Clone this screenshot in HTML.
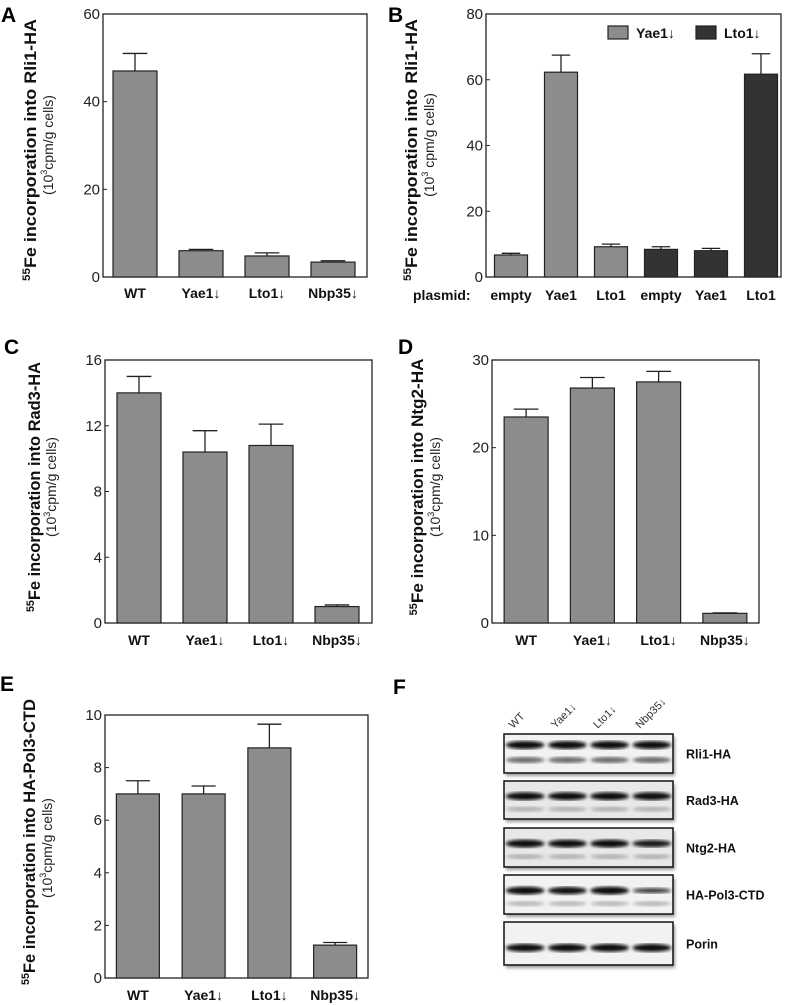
<!DOCTYPE html>
<html><head><meta charset="utf-8"><style>
body{margin:0;background:#fff}
svg{display:block;font-family:"Liberation Sans",Arial,sans-serif}
</style></head><body>
<svg id="fig" width="787" height="1005" viewBox="0 0 787 1005">
<g font-weight="bold" font-size="21" fill="#000">
<text x="1" y="22">A</text>
<text x="388" y="22">B</text>
<text x="4" y="354">C</text>
<text x="398" y="354">D</text>
<text x="0" y="691">E</text>
<text x="393" y="694">F</text>
</g>
<g id="blot"></g>
</svg>
<script>
// Panel A
const aCats=["WT","Yae1↓","Lto1↓","Nbp35↓"];
const aVals=[47,6,4.8,3.4];
const aErr=[51,6.3,5.5,3.7];
const aTicks=[0,20,40,60];
// Panel B
const bCats=["empty","Yae1","Lto1","empty","Yae1","Lto1"];
const bVals=[6.7,62.3,9.2,8.4,8.0,61.7];
const bErr=[7.2,67.5,10.0,9.2,8.7,67.9];
const bGroup=["Yae1↓","Yae1↓","Yae1↓","Lto1↓","Lto1↓","Lto1↓"];
const bTicks=[0,20,40,60,80];
// Panel C
const cCats=["WT","Yae1↓","Lto1↓","Nbp35↓"];
const cVals=[14,10.4,10.8,1.0];
const cErr=[15,11.7,12.1,1.1];
const cTicks=[0,4,8,12,16];
// Panel D
const dCats=["WT","Yae1↓","Lto1↓","Nbp35↓"];
const dVals=[23.5,26.8,27.5,1.1];
const dErr=[24.4,28.0,28.7,1.15];
const dTicks=[0,10,20,30];
// Panel E
const eCats=["WT","Yae1↓","Lto1↓","Nbp35↓"];
const eVals=[7.0,7.0,8.75,1.25];
const eErr=[7.5,7.3,9.65,1.35];
const eTicks=[0,2,4,6,8,10];
// Panel F
const blotRows=["Rli1-HA","Rad3-HA","Ntg2-HA","HA-Pol3-CTD","Porin"];
const blotLanes=["WT","Yae1↓","Lto1↓","Nbp35↓"];
const blotIntensity=[[1,1,1,1],[1,1,1,1],[1,1,1,0.9],[1,0.95,1,0.6],[1,1,1,1]];

const NS="http://www.w3.org/2000/svg";
const svg=document.getElementById('fig');
function mk(tag,attrs,parent,text){const e=document.createElementNS(NS,tag);for(const k in attrs)e.setAttribute(k,attrs[k]);if(text!==undefined)e.textContent=text;parent.appendChild(e);return e;}

function panel(cfg){
  const g=mk('g',{},svg);
  
  
  const {x0,x1,y0,y1,ticks,cats,vals,errs}=cfg;
  const max=ticks[ticks.length-1];
  const ys=v=>y1-(v/max)*(y1-y0);
  const step=(cfg.xEnd-cfg.xStart)/cats.length;
  const xs=i=>cfg.xStart+step*i+step/2;
  const frame=mk('rect',{x:x0,y:y0,width:x1-x0,height:y1-y0,fill:'none',stroke:'#222','stroke-width':1.3},g);
  
  
  ticks.forEach(t=>{
    const l=mk('line',{x1:x0,x2:x0+4,y1:ys(t),y2:ys(t),stroke:'#222','stroke-width':1},g);
    
    
    const tx=mk('text',{x:x0-3,y:ys(t)+5,'text-anchor':'end','font-size':15,fill:'#222'},g,String(t));
    
    
  });
  cats.forEach((c,i)=>{
    const cx=xs(i),w=cfg.bw;
    const fill=cfg.colors?cfg.colors[i]:'#8c8c8c';
    const b=mk('rect',{x:cx-w/2,y:ys(vals[i]),width:w,height:y1-ys(vals[i]),fill:fill,stroke:'#222','stroke-width':1.2},g);
    
    
    const e=mk('path',{d:`M${cx},${ys(vals[i])}V${ys(errs[i])}M${cx-w*0.28},${ys(errs[i])}H${cx+w*0.28}`,stroke:'#222','stroke-width':1.3,fill:'none'},g);
    
    
    const t=mk('text',{x:cx,y:cfg.labY,'text-anchor':'middle','font-size':14,'font-weight':'bold',fill:'#111'},g,c);
    
    
  });
  const tcy=cfg.tcy;
  const t1=mk('text',{transform:`translate(${cfg.tx},${tcy}) rotate(-90)`,'text-anchor':'middle','font-size':17,'font-weight':'bold',fill:'#111',textLength:cfg.tlen,lengthAdjust:'spacingAndGlyphs'},g);
  
  
  mk('tspan',{'font-size':11,dy:-6},t1,'55');
  mk('tspan',{dy:6},t1,'Fe incorporation into '+cfg.title);
  const t2=mk('text',{transform:`translate(${cfg.sx},${cfg.scy}) rotate(-90)`,'text-anchor':'middle','font-size':14,fill:'#222'},g);
  
  
  mk('tspan',{},t2,'(10');
  mk('tspan',{'font-size':9,dy:-6},t2,'3');
  mk('tspan',{dy:6},t2,cfg.sp+'cpm/g cells)');
  return g;
}

panel({name:'panel-a-chart',x0:103,x1:367,y0:14,y1:277,xStart:102,xEnd:366,bw:44,ticks:aTicks,cats:aCats,vals:aVals,errs:aErr,labY:298,title:'Rli1-HA',tx:36,tcy:150,tlen:262,sx:53,scy:145,sp:''});
const gB=panel({name:'panel-b-chart',x0:486,x1:781,y0:14,y1:277,xStart:486,xEnd:786,bw:33,ticks:bTicks,cats:bCats,vals:bVals,errs:bErr,labY:300,title:'Rli1-HA',tx:417,tcy:150,tlen:262,sx:434,scy:145,sp:' ',colors:bGroup.map(g=>g==='Yae1↓'?'#8c8c8c':'#333')});
const pl=mk('text',{x:413,y:300,'font-size':14,'font-weight':'bold',fill:'#111'},gB,'plasmid:');


[['Yae1↓','#8c8c8c',608],['Lto1↓','#333',696]].forEach(([n,c,x])=>{
  const r=mk('rect',{x:x,y:26,width:20,height:13,fill:c,stroke:'#222','stroke-width':1.2},gB);
  
  
  const t=mk('text',{x:x+28,y:38,'font-size':14,'font-weight':'bold',fill:'#111'},gB,n);
  
  
});
panel({name:'panel-c-chart',x0:105,x1:372,y0:360,y1:623,xStart:106,xEnd:370,bw:44,ticks:cTicks,cats:cCats,vals:cVals,errs:cErr,labY:645,title:'Rad3-HA',tx:40,tcy:487,tlen:250,sx:56,scy:487,sp:''});
panel({name:'panel-d-chart',x0:492,x1:759,y0:360,y1:623,xStart:493,xEnd:758,bw:44,ticks:dTicks,cats:dCats,vals:dVals,errs:dErr,labY:645,title:'Ntg2-HA',tx:423,tcy:487,tlen:257,sx:440,scy:487,sp:''});
panel({name:'panel-e-chart',x0:105,x1:368,y0:715,y1:978,xStart:105,xEnd:368,bw:43,ticks:eTicks,cats:eCats,vals:eVals,errs:eErr,labY:1000,title:'HA-Pol3-CTD',tx:35,tcy:842,tlen:286,sx:52,scy:848,sp:''});

// Panel F blot
const gF=document.getElementById('blot');
const rowY=[734,781,828,875,922];
const rowH=[39,38,39,39,43];
const bx0=504,bx1=673,laneW=(bx1-bx0)/blotLanes.length;
mk('defs',{},gF).innerHTML='<filter id="bl"><feGaussianBlur stdDeviation="1.6"/></filter>';
blotLanes.forEach((l,i)=>{
  const cx=bx0+laneW*(i+0.5);
  const t=mk('text',{transform:`translate(${cx-12},${729}) rotate(-45)`,'font-size':11,fill:'#333'},gF,l);
  
  
});
blotRows.forEach((r,j)=>{
  const y=rowY[j],h=rowH[j];
  const sh=mk('rect',{x:bx0+2,y:y+3,width:bx1-bx0,height:h,fill:'#999',filter:'url(#bl)'},gF);
  
  
  const box=mk('rect',{x:bx0,y:y,width:bx1-bx0,height:h,fill:j===1||j===2?'#e8e8e8':'#f2f2f2',stroke:'#111','stroke-width':1.5},gF);
  
  
  blotLanes.forEach((l,i)=>{
    const cx=bx0+laneW*(i+0.5),k=blotIntensity[j][i];
    const by=j===0?y+11:(j===4?y+h*0.6:y+h*0.4);
    const band=mk('ellipse',{cx:cx,cy:by,rx:laneW*0.46,ry:3.5*k+0.5,fill:'#111',opacity:0.5+0.5*k,filter:'url(#bl)'},gF);
    
    
    if(j<4){
      const b2=mk('ellipse',{cx:cx,cy:j===0?y+26:by+13,rx:laneW*0.46,ry:j===0?3:2.5,fill:'#333',opacity:j===0?0.7:0.3,filter:'url(#bl)'},gF);
      
      
    }
  });
  const lab=mk('text',{x:686,y:y+h/2+5,'font-size':12.5,'font-weight':'bold',fill:'#111'},gF,r);
  
  
});
</script>
</body></html>
